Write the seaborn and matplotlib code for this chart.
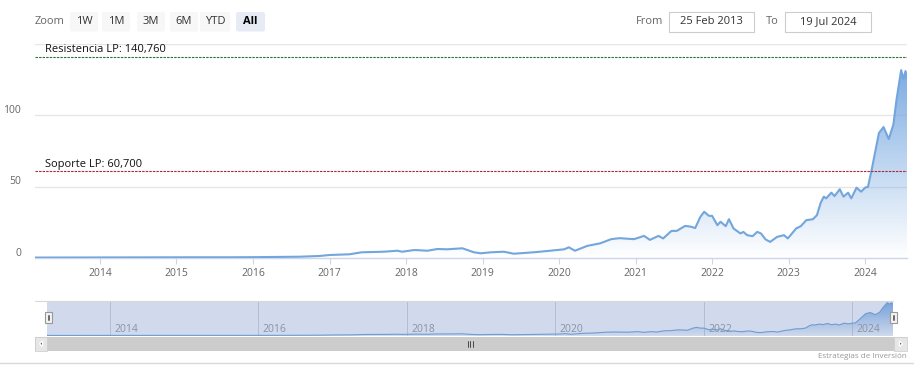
import numpy as np
import pandas as pd
import matplotlib
matplotlib.use("Agg")
import matplotlib.pyplot as plt
import matplotlib.dates as mdates
from matplotlib.patches import Rectangle, FancyBboxPatch, Polygon
import seaborn as sns

# ---------------- data ----------------
dates = [
    "2013-02-25", "2013-09-01", "2014-03-01", "2014-09-01", "2015-03-01", "2015-09-01",
    "2016-01-15", "2016-05-01", "2016-08-10", "2016-11-13", "2017-01-01", "2017-04-06",
    "2017-06-03", "2017-09-16", "2017-11-21", "2017-12-13", "2018-02-10", "2018-04-13",
    "2018-05-30", "2018-07-16", "2018-09-27", "2018-11-21", "2018-12-24", "2019-02-10",
    "2019-04-13", "2019-05-30", "2019-09-02", "2019-11-06", "2020-01-26", "2020-02-17",
    "2020-03-17", "2020-05-15", "2020-07-16", "2020-09-06", "2020-10-16", "2020-12-24",
    "2021-02-10", "2021-03-10", "2021-04-20", "2021-05-12", "2021-06-21", "2021-07-16",
    "2021-08-25", "2021-09-20", "2021-10-12", "2021-11-06", "2021-11-24", "2021-12-16",
    "2022-01-01", "2022-01-26", "2022-02-10", "2022-03-07", "2022-03-22", "2022-04-13",
    "2022-05-16", "2022-05-30", "2022-06-17", "2022-07-13", "2022-08-04", "2022-08-22",
    "2022-09-13", "2022-10-05", "2022-11-07", "2022-12-10", "2022-12-28", "2023-02-06",
    "2023-02-28", "2023-03-26", "2023-04-27", "2023-05-16", "2023-06-03", "2023-06-18",
    "2023-06-29", "2023-07-24", "2023-08-08", "2023-09-02", "2023-09-20", "2023-10-12",
    "2023-10-27", "2023-11-21", "2023-12-13", "2024-01-01", "2024-01-15", "2024-02-03",
    "2024-02-17", "2024-03-07", "2024-03-29", "2024-04-23", "2024-05-15", "2024-05-30",
    "2024-06-21", "2024-07-02", "2024-07-12", "2024-07-19",
]
prices = [
    0.30, 0.35, 0.40, 0.45, 0.50, 0.50,
    0.60, 0.75, 0.90, 1.40, 2.10, 2.60,
    4.00, 4.40, 5.10, 4.40, 5.60, 5.10,
    6.30, 6.10, 6.80, 4.00, 3.30, 4.00,
    4.40, 3.00, 4.00, 4.90, 6.10, 7.50,
    5.10, 8.50, 10.3, 13.2, 13.9, 13.2,
    15.5, 12.7, 15.5, 13.7, 19.0, 19.0,
    22.5, 22.0, 21.0, 28.9, 32.4, 29.6,
    29.5, 23.0, 25.4, 22.3, 27.2, 20.7,
    17.2, 18.3, 16.0, 15.3, 18.3, 17.2,
    13.0, 11.3, 14.8, 16.0, 13.7, 20.7,
    22.3, 26.5, 27.2, 30.0, 38.7, 43.0,
    41.8, 45.8, 43.4, 48.2, 43.0, 45.8,
    41.8, 49.3, 46.5, 49.3, 50.0, 63.0,
    73.5, 87.6, 91.8, 83.4, 93.5, 111.0,
    131.7, 125.6, 131.0, 125.6,
]
y_ticks = [0, 50, 100, 150]
y_tick_labels = ["0", "50", "100", ""]
resist_label, resist_value = "Resistencia LP: 140,760", 140.76
support_label, support_value = "Soporte LP: 60,700", 60.70
zoom_label = "Zoom"
zoom_buttons = ["1W", "1M", "3M", "6M", "YTD", "All"]
from_label, from_date = "From", "25 Feb 2013"
to_label, to_date = "To", "19 Jul 2024"
nav_years = [2014, 2016, 2018, 2020, 2022, 2024]
credit = "Estrategias de Inversión"

# ---------------- style ----------------
sns.set_theme(style="white")
plt.rcParams['font.family'] = ['Open Sans', 'DejaVu Sans']

W, H = 914, 378
LINE = "#72a6dc"
RGB = (0.45, 0.65, 0.88)

fig = plt.figure(figsize=(W / 100, H / 100), dpi=100)
fig.patch.set_facecolor("white")


def fx(x):
    return x / W


def fy(y):
    return 1 - y / H


df = pd.DataFrame({"date": pd.to_datetime(dates), "price": prices})
xnum = mdates.date2num(df["date"])
xmin, xmax = xnum[0], xnum[-1]


def grad_fill(ax, top_alpha, bottom_alpha):
    poly = ax.fill_between(xnum, df["price"], 0, facecolor="none", edgecolor="none")
    path = poly.get_paths()[0]
    n = 256
    img = np.zeros((n, 1, 4))
    img[..., 0], img[..., 1], img[..., 2] = RGB
    img[:, 0, 3] = np.linspace(bottom_alpha, top_alpha, n)
    im = ax.imshow(img, extent=[xmin, xmax, 0, max(prices)], origin="lower",
                   aspect="auto", interpolation="bilinear", zorder=1.5)
    im.set_clip_path(path, transform=ax.transData)


# ---------------- main chart ----------------
ax = fig.add_axes([fx(35), fy(258), (907 - 35) / W, (258 - 44) / H])
ax.set_facecolor("white")
grad_fill(ax, 0.92, 0.0)
sns.lineplot(data=df, x="date", y="price", ax=ax, color=LINE, lw=1.5, zorder=3)
ax.set_xlim(xmin, xmax)
ax.set_ylim(0, 150)
ax.set_xlabel("")
ax.set_ylabel("")
for s in ["top", "left", "right"]:
    ax.spines[s].set_visible(False)
ax.spines["bottom"].set_color("#ccd6eb")
ax.spines["bottom"].set_linewidth(1)
ax.set_yticks(y_ticks)
ax.set_yticklabels([])
ax.tick_params(axis="y", length=0)
for v in y_ticks[1:]:
    ax.axhline(v, color="#e6e6e6", lw=1, zorder=0.5)
for v, lab in zip(y_ticks, y_tick_labels):
    ax.annotate(lab, xy=(0, v), xycoords=("axes fraction", "data"), xytext=(-14, 5),
                textcoords="offset pixels", ha="right", va="center",
                fontsize=7.5, color="#666666")
ax.xaxis.set_major_locator(mdates.YearLocator())
ax.xaxis.set_major_formatter(mdates.DateFormatter("%Y"))
ax.tick_params(axis="x", length=4, width=0.8, color="#ccd6eb", pad=3,
               labelsize=7.5, labelcolor="#666666", bottom=True)

# plot lines
ax.axhline(resist_value, color="#2f6e36", lw=0.8, ls=(0, (2.2, 1.0)), zorder=4)
ax.axhline(support_value, color="#a8283c", lw=0.8, ls=(0, (2.2, 1.0)), zorder=4)
ax.annotate(resist_label, xy=(0, resist_value), xycoords=("axes fraction", "data"),
            xytext=(10, 8), textcoords="offset pixels", ha="left", va="center",
            fontsize=8, color="#111111")
ax.annotate(support_label, xy=(0, support_value), xycoords=("axes fraction", "data"),
            xytext=(10, 7), textcoords="offset pixels", ha="left", va="center",
            fontsize=8, color="#111111")

# ---------------- navigator ----------------
nav = fig.add_axes([fx(47), fy(336), (893 - 47) / W, (336 - 301) / H])
nav.set_facecolor("white")
grad_fill(nav, 0.9, 0.05)
sns.lineplot(data=df, x="date", y="price", ax=nav, color=LINE, lw=0.8, zorder=3)
nav.set_xlim(xmin, xmax)
nav.set_ylim(-2, 138)
nav.set_xlabel("")
nav.set_ylabel("")
nav.set_xticks([])
nav.set_yticks([])
for s in nav.spines.values():
    s.set_visible(False)
for yr in nav_years:
    xv = mdates.date2num(pd.Timestamp(f"{yr}-01-01"))
    nav.axvline(xv, color="#d2d7e0", lw=0.7, zorder=1)
    nav.annotate(str(yr), xy=(xv, 0), xycoords=("data", "axes fraction"),
                 xytext=(4, 6), textcoords="offset pixels", ha="left", va="center",
                 fontsize=7.5, color="#8a93a6", zorder=6)
nav.add_patch(Rectangle((0, 0), 1, 1, transform=nav.transAxes,
                        facecolor=(102 / 255, 133 / 255, 194 / 255, 0.3),
                        edgecolor="none", zorder=5))

# ---------------- overlay (UI elements) ----------------
ov = fig.add_axes([0, 0, 1, 1])
ov.set_xlim(0, W)
ov.set_ylim(H, 0)
ov.axis("off")
ov.patch.set_visible(False)

ov.text(35, 21.5, zoom_label, ha="left", va="center", fontsize=8, color="#666666")
btn_x = [(70, 98), (102, 130), (137, 165), (170, 198), (200, 230), (236, 265)]
for lab, (x0, x1) in zip(zoom_buttons, btn_x):
    sel = lab == "All"
    ov.add_patch(FancyBboxPatch((x0, 12), x1 - x0, 19.5, boxstyle="round,pad=0,rounding_size=2",
                                facecolor="#e6ebf5" if sel else "#f7f7f7",
                                edgecolor="none"))
    ov.text((x0 + x1) / 2, 21.5, lab, ha="center", va="center", fontsize=8,
            color="#000000" if sel else "#333333", fontweight="bold" if sel else "normal")

ov.text(636, 21.5, from_label, ha="left", va="center", fontsize=8, color="#666666")
ov.add_patch(Rectangle((669, 12), 85, 19.5, facecolor="white", edgecolor="#cccccc", lw=0.8))
ov.text(711.5, 21.5, from_date, ha="center", va="center", fontsize=8, color="#333333")
ov.text(766, 21.5, to_label, ha="left", va="center", fontsize=8, color="#666666")
ov.add_patch(Rectangle((785, 12), 86, 19.5, facecolor="white", edgecolor="#cccccc", lw=0.8))
ov.text(828, 21.5, to_date, ha="center", va="center", fontsize=8, color="#333333")

# navigator outline
ov.plot([35, 893], [301, 301], color="#d8d8d8", lw=0.8)

# navigator handles
for hx in (45, 890):
    ov.add_patch(Rectangle((hx, 312), 6.5, 11, facecolor="#f2f2f2", edgecolor="#999999", lw=0.8))
    ov.plot([hx + 2.5, hx + 2.5], [315, 320], color="#333333", lw=0.5)
    ov.plot([hx + 4, hx + 4], [315, 320], color="#333333", lw=0.5)

# scrollbar
ov.add_patch(Rectangle((35, 337), 872, 13.5, facecolor="#cccccc", edgecolor="none"))
ov.add_patch(Rectangle((35, 337), 12, 13.5, facecolor="#e6e6e6", edgecolor="#cccccc", lw=0.5))
ov.add_patch(Rectangle((894, 337), 13, 13.5, facecolor="#e6e6e6", edgecolor="#cccccc", lw=0.5))
ov.add_patch(Polygon([[42.5, 341], [42.5, 346.5], [39.5, 343.7]], closed=True, facecolor="#333333"))
ov.add_patch(Polygon([[899.5, 341], [899.5, 346.5], [902.5, 343.7]], closed=True, facecolor="#333333"))
for gx in (467.5, 470, 472.5):
    ov.plot([gx, gx], [341, 346.5], color="#333333", lw=0.6)

# credit and bottom rule
ov.text(907, 356, credit, ha="right", va="center", fontsize=5.8, color="#999999")
ov.plot([0, W], [362.5, 362.5], color="#d9d9d9", lw=1)

fig.savefig("out.png", dpi=100, facecolor="white")
